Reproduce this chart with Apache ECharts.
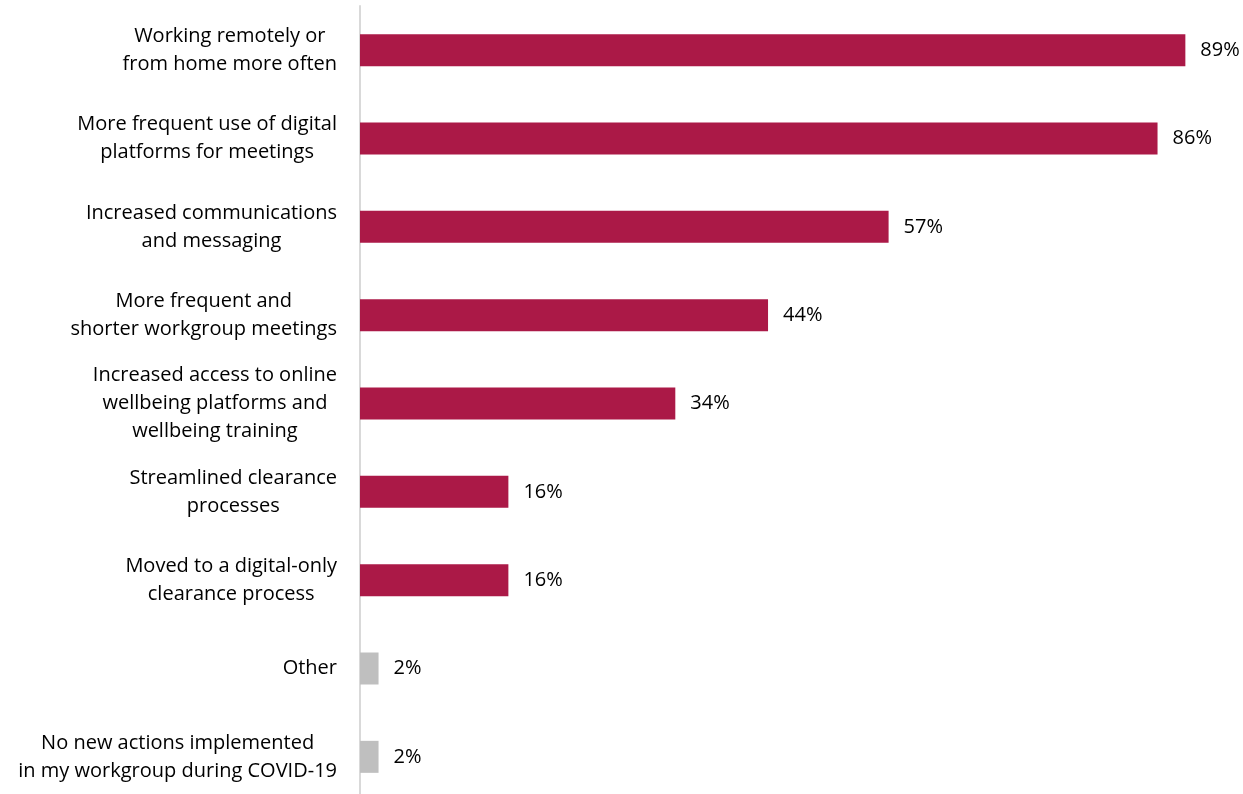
<!DOCTYPE html>
<html>
<head>
<meta charset="utf-8">
<script src="https://cdn.jsdelivr.net/npm/echarts@6/dist/echarts.min.js"></script>
<style>
  html, body { margin: 0; padding: 0; background: #fff; overflow: hidden; height: 794px; }
  /* the plot runs a few pixels past the page bottom, so the last band is cut off */
  #chart { width: 1243px; height: 801px; }
</style>
</head>
<body>
<div id="chart"></div>
<script>
// Actions implemented in workgroups during COVID-19 (% of respondents)
const categories = [
  'Working remotely or\nfrom home more often',
  'More frequent use of digital\nplatforms for meetings',
  'Increased communications\nand messaging',
  'More frequent and\nshorter workgroup meetings',
  'Increased access to online\nwellbeing platforms and\nwellbeing training',
  'Streamlined clearance\nprocesses',
  'Moved to a digital-only\nclearance process',
  'Other',
  'No new actions implemented\nin my workgroup during COVID-19'
];
const values = [89, 86, 57, 44, 34, 16, 16, 2, 2];
// The last two answers are shown in grey
const greyCategories = ['Other', 'No new actions implemented\nin my workgroup during COVID-19'];

const RED = '#AB1947';
const GREY = '#BFBFBF';
const FONT = '"Open Sans", sans-serif';

const chart = echarts.init(document.getElementById('chart'), null, { renderer: 'canvas' });

chart.setOption({
  animation: false,
  grid: { left: 360, right: 2, top: 6, bottom: 0, containLabel: false },
  xAxis: {
    type: 'value',
    min: 0,
    max: 95,
    show: false
  },
  yAxis: {
    type: 'category',
    data: categories,
    inverse: true,
    axisLine: { show: true, lineStyle: { color: '#D9D9D9', width: 2 } },
    axisTick: { show: false },
    axisLabel: {
      margin: 23,
      align: 'right',
      // each line centred within the label block, block sits right of the axis gap
      formatter: v => v.split('\n').map(l => '{c|' + l + '}').join('\n'),
      rich: {
        c: {
          align: 'center',
          color: '#000',
          fontSize: 20,
          fontFamily: FONT,
          lineHeight: 28
        }
      }
    }
  },
  series: [{
    type: 'bar',
    barWidth: 32,
    data: values.map((v, i) => ({
      value: v,
      itemStyle: { color: greyCategories.includes(categories[i]) ? GREY : RED }
    })),
    label: {
      show: true,
      position: 'right',
      distance: 15,
      color: '#000',
      fontSize: 20,
      fontFamily: FONT,
      formatter: p => p.value + '%'
    }
  }]
});
</script>
</body>
</html>
